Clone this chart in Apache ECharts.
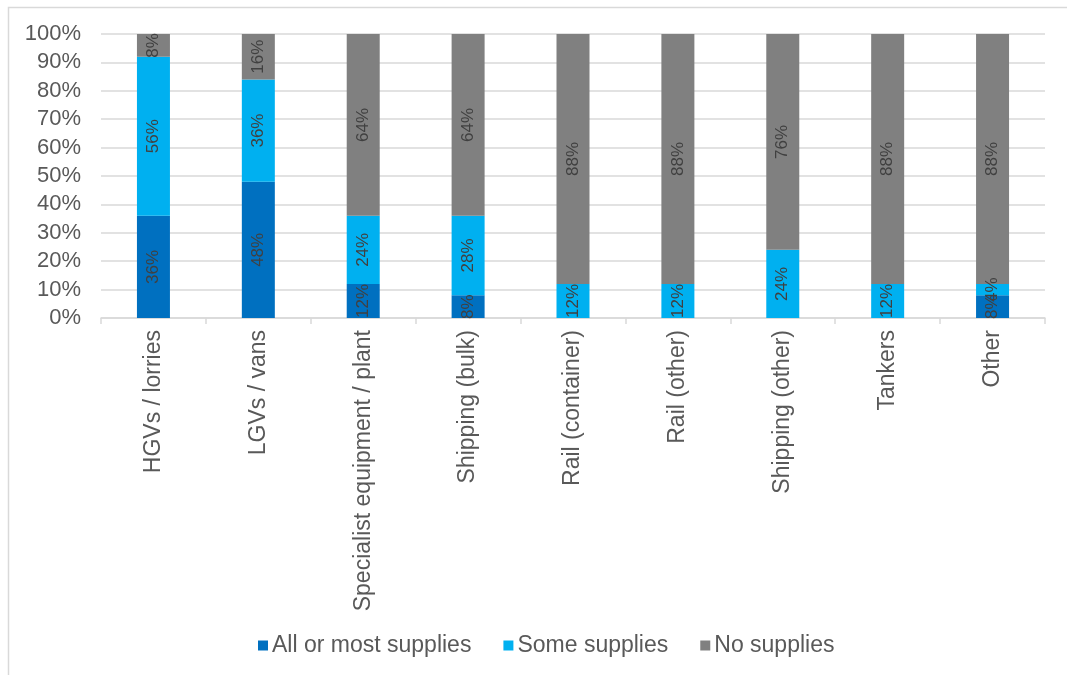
<!DOCTYPE html>
<html>
<head>
<meta charset="utf-8">
<script src="https://cdn.jsdelivr.net/npm/echarts@6/dist/echarts.min.js"></script>
<style>html,body{margin:0;padding:0;background:#fff}#c{width:1067px;height:675px}</style>
</head>
<body>
<div id="c"></div>
<script>
const categories = ['HGVs / lorries','LGVs / vans','Specialist equipment / plant','Shipping (bulk)','Rail (container)','Rail (other)','Shipping (other)','Tankers','Other'];
const allOrMost = [36,48,12,8,0,0,0,0,8];
const some = [56,36,24,28,12,12,24,12,4];
const none = [8,16,64,64,88,88,76,88,88];
const yTicks = [0,10,20,30,40,50,60,70,80,90,100];

const FF = 'Liberation Sans, Arial, sans-serif';
const chart = echarts.init(document.getElementById('c'), null, {renderer:'canvas'});
const lbl = {
  show:true, position:'inside', rotate:90, color:'#404040', fontSize:17,
  fontFamily:FF,
  formatter: p => p.value ? p.value + '%' : ''
};
function mk(name, data, color){
  return {name, type:'bar', stack:'s', data, barWidth:33,
    itemStyle:{color}, label:lbl, emphasis:{disabled:true}};
}
chart.setOption({
  animation:false,
  graphic:[{type:'rect', shape:{x:8.5,y:7.5,width:1100,height:700}, style:{fill:'none', stroke:'#d9d9d9', lineWidth:1.5}, silent:true}],
  grid:{left:101, right:22, top:34, bottom:357},
  legend:{top:629, left:253, itemWidth:10, itemHeight:10, itemGap:32, icon:'rect',
    textStyle:{fontSize:23, color:'#595959', fontFamily:FF, padding:[0,0,0,-1]},
    data:['All or most supplies','Some supplies','No supplies']},
  xAxis:{type:'category', data:categories,
    axisLine:{lineStyle:{color:'#d9d9d9', width:1.5}},
    axisTick:{show:true, length:6, lineStyle:{color:'#d9d9d9', width:1.5}},
    axisLabel:{rotate:90, fontSize:23, color:'#595959', margin:12, interval:0, fontFamily:FF}},
  yAxis:{type:'value', min:0, max:100, interval:10,
    axisLabel:{formatter: v => yTicks.includes(v) ? v + '%' : '', fontSize:22, color:'#595959', margin:20, fontFamily:FF},
    axisLine:{show:false}, axisTick:{show:false},
    splitLine:{lineStyle:{color:'#d9d9d9', width:1.5}}},
  series:[
    mk('All or most supplies', allOrMost, '#0070C0'),
    mk('Some supplies', some, '#00B0F0'),
    mk('No supplies', none, '#808080')
  ]
});
</script>
</body>
</html>
